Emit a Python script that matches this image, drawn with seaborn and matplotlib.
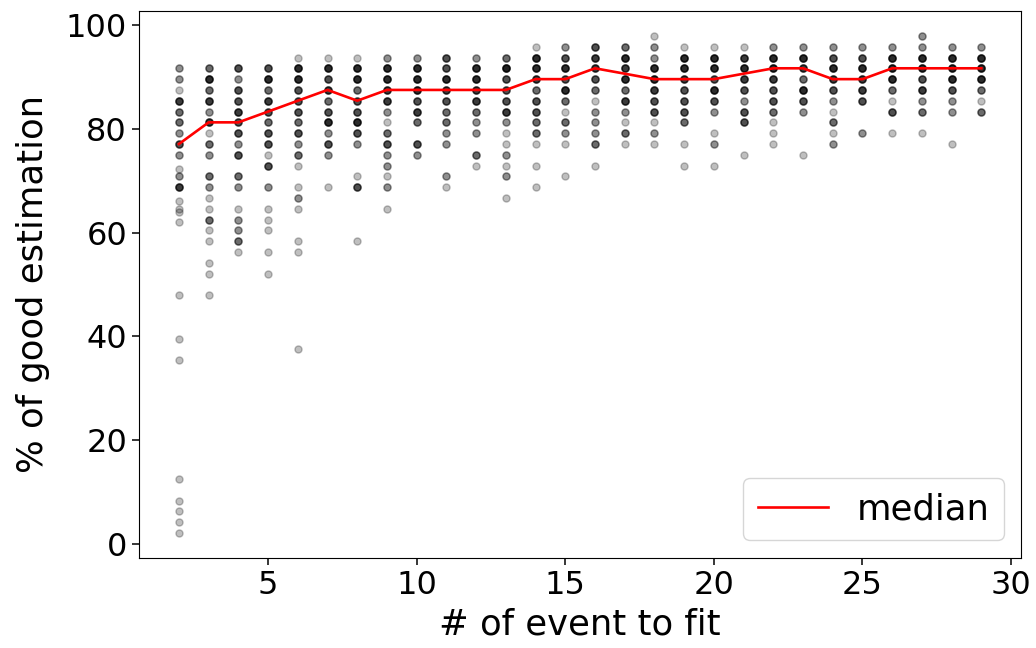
import numpy as np
import pandas as pd
import matplotlib
matplotlib.use("Agg")
import matplotlib.pyplot as plt
import seaborn as sns

# ---- data (x, % value, number of overlapping runs) ----
pt_x = (
    [2]*24 + [3]*19 + [4]*16 + [5]*16 + [6]*17 + [7]*11 + [8]*12 + [9]*14 +
    [10]*9 + [11]*11 + [12]*10 + [13]*13 + [14]*12 + [15]*11 + [16]*11 +
    [17]*10 + [18]*11 + [19]*10 + [20]*10 + [21]*9 + [22]*10 + [23]*8 +
    [24]*10 + [25]*7 + [26]*8 + [27]*9 + [28]*8 + [29]*7
)
pt_pct = [
    # x=2
    91.67, 89.58, 87.5, 85.42, 83.33, 81.25, 79.17, 77.08, 75.0, 72.3, 70.83, 68.75,
    66.0, 64.6, 64.0, 62.0, 47.92, 39.58, 35.42, 12.5, 8.33, 6.25, 4.17, 2.08,
    # x=3
    91.67, 89.58, 87.5, 85.42, 83.33, 81.25, 79.17, 77.08, 75.0, 70.83, 68.75, 66.67,
    64.58, 62.5, 60.42, 58.33, 54.17, 52.08, 47.92,
    # x=4
    91.67, 89.58, 87.5, 85.42, 83.33, 81.25, 79.17, 77.08, 75.0, 70.83, 68.75, 64.58,
    62.5, 60.42, 58.33, 56.25,
    # x=5
    91.67, 89.58, 87.5, 85.42, 83.33, 81.25, 79.17, 77.08, 75.0, 72.92, 68.75, 64.58,
    62.5, 60.42, 56.25, 52.08,
    # x=6
    93.75, 91.67, 89.58, 87.5, 85.42, 83.33, 81.25, 79.17, 77.08, 75.0, 72.92, 68.75,
    66.67, 64.58, 58.33, 56.25, 37.5,
    # x=7
    93.75, 91.67, 89.58, 87.5, 85.42, 83.33, 81.25, 79.17, 77.08, 75.0, 68.75,
    # x=8
    93.75, 91.67, 89.58, 87.5, 85.42, 83.33, 81.25, 79.17, 77.08, 70.83, 68.75, 58.33,
    # x=9
    93.75, 91.67, 89.58, 87.5, 85.42, 83.33, 81.25, 79.17, 77.08, 75.0, 72.92, 70.83,
    68.75, 64.58,
    # x=10
    93.75, 91.67, 89.58, 87.5, 85.42, 83.33, 81.25, 77.08, 75.0,
    # x=11
    93.75, 91.67, 89.58, 87.5, 85.42, 83.33, 81.25, 79.17, 77.08, 70.83, 68.75,
    # x=12
    93.75, 91.67, 89.58, 87.5, 85.42, 83.33, 81.25, 79.17, 75.0, 72.92,
    # x=13
    93.75, 91.67, 89.58, 87.5, 85.42, 83.33, 81.25, 79.17, 77.08, 75.0, 72.92, 70.83, 66.67,
    # x=14
    95.83, 93.75, 91.67, 89.58, 87.5, 85.42, 83.33, 81.25, 79.17, 77.08, 72.92, 68.75,
    # x=15
    95.83, 93.75, 91.67, 89.58, 87.5, 85.42, 83.33, 81.25, 79.17, 77.08, 70.83,
    # x=16
    95.83, 93.75, 91.67, 89.58, 87.5, 85.42, 83.33, 81.25, 79.17, 77.08, 72.92,
    # x=17
    95.83, 93.75, 91.67, 89.58, 87.5, 85.42, 83.33, 81.25, 79.17, 77.08,
    # x=18
    97.92, 95.83, 93.75, 91.67, 89.58, 87.5, 85.42, 83.33, 81.25, 79.17, 77.08,
    # x=19
    95.83, 93.75, 91.67, 89.58, 87.5, 85.42, 83.33, 81.25, 77.08, 72.92,
    # x=20
    95.83, 93.75, 91.67, 89.58, 87.5, 85.42, 83.33, 79.17, 77.08, 72.92,
    # x=21
    95.83, 93.75, 91.67, 89.58, 87.5, 85.42, 83.33, 81.25, 75.0,
    # x=22
    95.83, 93.75, 91.67, 89.58, 87.5, 85.42, 83.33, 81.25, 79.17, 77.08,
    # x=23
    95.83, 93.75, 91.67, 89.58, 87.5, 85.42, 83.33, 75.0,
    # x=24
    95.83, 93.75, 91.67, 89.58, 87.5, 85.42, 83.33, 81.25, 79.17, 77.08,
    # x=25
    95.83, 93.75, 91.67, 89.58, 87.5, 85.42, 79.17,
    # x=26
    95.83, 93.75, 91.67, 89.58, 87.5, 85.42, 83.33, 79.17,
    # x=27
    97.92, 95.83, 93.75, 91.67, 89.58, 87.5, 85.42, 83.33, 79.17,
    # x=28
    95.83, 93.75, 91.67, 89.58, 87.5, 85.42, 83.33, 77.08,
    # x=29
    95.83, 93.75, 91.67, 89.58, 87.5, 85.42, 83.33,
]
pt_count = [
    # x=2
    2, 2, 1, 5, 3, 3, 2, 4, 2, 1, 2, 5, 1, 1, 1, 1, 1, 1, 1, 1, 1, 1, 1, 1,
    # x=3
    3, 6, 3, 5, 2, 5, 1, 3, 2, 3, 2, 1, 1, 3, 1, 1, 1, 1, 1,
    # x=4
    4, 2, 4, 4, 5, 4, 4, 2, 4, 3, 2, 1, 2, 2, 3, 1,
    # x=5
    4, 6, 3, 5, 4, 3, 4, 4, 1, 4, 2, 1, 1, 1, 1, 1,
    # x=6
    1, 6, 6, 4, 4, 4, 3, 4, 2, 3, 1, 1, 2, 1, 1, 1, 1,
    # x=7
    1, 6, 4, 5, 3, 4, 6, 2, 4, 2, 1,
    # x=8
    1, 6, 6, 3, 4, 4, 6, 4, 2, 1, 4, 1,
    # x=9
    2, 6, 6, 5, 5, 2, 1, 3, 4, 2, 2, 1, 2, 1,
    # x=10
    2, 6, 6, 6, 4, 5, 3, 4, 2,
    # x=11
    4, 4, 6, 5, 4, 3, 3, 2, 2, 2, 1,
    # x=12
    2, 6, 6, 5, 5, 3, 2, 2, 3, 1,
    # x=13
    3, 7, 4, 4, 4, 5, 2, 1, 1, 2, 1, 2, 1,
    # x=14
    1, 6, 6, 5, 3, 4, 4, 3, 3, 1, 1, 1,
    # x=15
    2, 4, 6, 4, 6, 3, 1, 3, 2, 1, 1,
    # x=16
    4, 5, 5, 4, 3, 1, 2, 2, 2, 3, 1,
    # x=17
    3, 6, 5, 6, 3, 5, 2, 1, 3, 1,
    # x=18
    1, 2, 2, 6, 6, 5, 4, 4, 1, 2, 1,
    # x=19
    1, 6, 6, 5, 4, 4, 4, 3, 1, 1,
    # x=20
    1, 6, 6, 4, 6, 4, 2, 1, 2, 1,
    # x=21
    1, 5, 6, 5, 4, 2, 4, 4, 1,
    # x=22
    2, 6, 6, 5, 4, 4, 3, 1, 1, 1,
    # x=23
    2, 6, 5, 3, 6, 4, 2, 1,
    # x=24
    2, 4, 6, 5, 4, 2, 1, 3, 1, 2,
    # x=25
    2, 4, 6, 5, 5, 4, 2,
    # x=26
    2, 6, 6, 6, 3, 1, 4, 1,
    # x=27
    2, 2, 6, 6, 4, 5, 2, 3, 1,
    # x=28
    2, 6, 6, 6, 4, 2, 2, 1,
    # x=29
    2, 6, 6, 6, 3, 1, 3,
]

median_x = list(range(2, 30))
median_pct = [77.08, 81.25, 81.25, 83.33, 85.42, 87.5, 85.42, 87.5, 87.5, 87.5,
              87.5, 87.5, 89.58, 89.58, 91.67, 90.63, 89.58, 89.58, 89.58, 90.63,
              91.67, 91.67, 89.58, 89.58, 91.67, 91.67, 91.67, 91.67]

x_label = "# of event to fit"
y_label = "% of good estimation"
legend_label = "median"

# ---- expand overlapping runs ----
pts = pd.DataFrame({
    "x": np.repeat(pt_x, pt_count),
    "pct": np.repeat(pt_pct, pt_count),
})
med = pd.DataFrame({"x": median_x, "pct": median_pct})

plt.rcParams["font.family"] = ["DejaVu Sans"]
fig, ax = plt.subplots(figsize=(10.36, 6.48), dpi=100)
fig.subplots_adjust(left=0.134, right=0.986, bottom=0.139, top=0.983)

sns.scatterplot(data=pts, x="x", y="pct", ax=ax, color="black", alpha=0.25,
                s=26, edgecolor="black", linewidth=1, legend=False)
sns.lineplot(data=med, x="x", y="pct", ax=ax, color="red", linewidth=1.9,
             label=legend_label)

ax.set_xlabel(x_label, fontsize=25.5, labelpad=5)
ax.set_ylabel(y_label, fontsize=25.5, labelpad=11)
ax.tick_params(labelsize=23, length=5, width=1.1)
ax.set_xticks([5, 10, 15, 20, 25, 30])
ax.set_yticks([0, 20, 40, 60, 80, 100])
ax.legend(loc="lower right", fontsize=25.5)

fig.savefig("out.png", dpi=100)
